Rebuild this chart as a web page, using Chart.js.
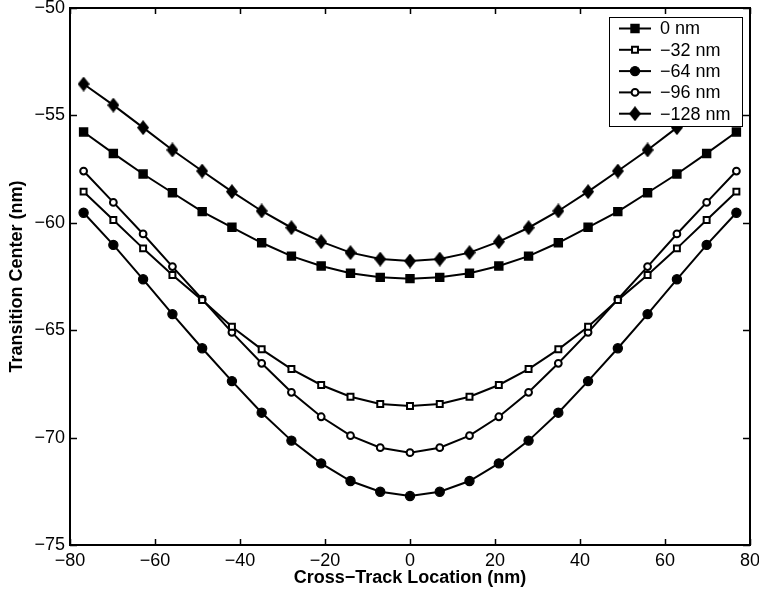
<!DOCTYPE html>
<html>
<head>
<meta charset="utf-8">
<script src="https://cdn.jsdelivr.net/npm/chart.js@4.4.1/dist/chart.umd.min.js"></script>
<style>
  html, body { margin: 0; padding: 0; background: #fff; }
  #wrap { width: 759px; height: 595px; }
</style>
</head>
<body>
<div id="wrap"><canvas id="chart"></canvas></div>
<script>
// cross-track positions (nm)
const crossTrack = [-76.8, -69.8, -62.8, -55.9, -48.9, -41.9, -34.9, -27.9, -20.9, -14.0, -7.0, 0,
                    7.0, 14.0, 20.9, 27.9, 34.9, 41.9, 48.9, 55.9, 62.8, 69.8, 76.8];

// transition center (nm) for each offset
const offset0 = [-55.77, -56.77, -57.73, -58.60, -59.48, -60.21, -60.93, -61.55, -62.01, -62.35, -62.54, -62.60,
                 -62.54, -62.35, -62.01, -61.55, -60.93, -60.21, -59.48, -58.60, -57.73, -56.77, -55.77];
const offset32 = [-58.55, -59.87, -61.19, -62.43, -63.60, -64.84, -65.89, -66.81, -67.55, -68.10, -68.44, -68.53,
                  -68.44, -68.10, -67.55, -66.81, -65.89, -64.84, -63.60, -62.43, -61.19, -59.87, -58.55];
const offset64 = [-59.53, -61.03, -62.63, -64.25, -65.84, -67.37, -68.84, -70.14, -71.20, -72.02, -72.52, -72.72,
                  -72.52, -72.02, -71.20, -70.14, -68.84, -67.37, -65.84, -64.25, -62.63, -61.03, -59.53];
const offset96 = [-57.59, -59.05, -60.52, -62.04, -63.56, -65.10, -66.54, -67.89, -69.03, -69.91, -70.47, -70.70,
                  -70.47, -69.91, -69.03, -67.89, -66.54, -65.10, -63.56, -62.04, -60.52, -59.05, -57.59];
const offset128 = [-53.54, -54.52, -55.57, -56.61, -57.59, -58.55, -59.45, -60.23, -60.88, -61.39, -61.69, -61.78,
                   -61.69, -61.39, -60.88, -60.23, -59.45, -58.55, -57.59, -56.61, -55.57, -54.52, -53.54];

const seriesLabels = ['0 nm', '\u221232 nm', '\u221264 nm', '\u221296 nm', '\u2212128 nm'];
const xTickValues = [-80, -60, -40, -20, 0, 20, 40, 60, 80];
const yTickValues = [-75, -70, -65, -60, -55, -50];

const FONT = '"Liberation Sans", Arial, Helvetica, sans-serif';

// tall diamond like the matlab marker
function diamond(w, h) {
  const c = document.createElement('canvas');
  c.width = w; c.height = h;
  const g = c.getContext('2d');
  g.fillStyle = '#000';
  g.beginPath();
  g.moveTo(w / 2, 0); g.lineTo(w, h / 2); g.lineTo(w / 2, h); g.lineTo(0, h / 2);
  g.closePath(); g.fill();
  return c;
}

const markers = [
  { pointStyle: 'rect', radius: 5.6, borderWidth: 1.5, fill: '#000' },
  { pointStyle: 'rect', radius: 4.2, borderWidth: 2, fill: '#fff' },
  { pointStyle: 'circle', radius: 4.6, borderWidth: 1.2, fill: '#000' },
  { pointStyle: 'circle', radius: 3.4, borderWidth: 2, fill: '#fff' },
  { pointStyle: diamond(12, 15), radius: 6, borderWidth: 0, fill: '#000' },
];

const series = [offset0, offset32, offset64, offset96, offset128];

const datasets = series.map((vals, i) => ({
  label: seriesLabels[i],
  data: crossTrack.map((x, j) => ({ x, y: vals[j] })),
  showLine: true,
  borderColor: '#000',
  borderWidth: 2,
  pointStyle: markers[i].pointStyle,
  pointRadius: markers[i].radius,
  pointBorderWidth: markers[i].borderWidth,
  pointBackgroundColor: markers[i].fill,
  pointBorderColor: '#000',
  clip: false,
}));

const minus = v => String(v).replace('-', '\u2212');

// box, inward ticks on all sides, and the legend drawn on top of the lines
const matlabFrame = {
  id: 'matlabFrame',
  afterDatasetsDraw(chart) {
    const { ctx, chartArea: a, scales: { x, y } } = chart;
    ctx.save();
    ctx.strokeStyle = '#000';
    ctx.lineWidth = 1.5;
    ctx.beginPath();
    xTickValues.forEach(v => {
      const px = Math.round(x.getPixelForValue(v)) + 0.5;
      ctx.moveTo(px, a.bottom); ctx.lineTo(px, a.bottom - 6);
      ctx.moveTo(px, a.top); ctx.lineTo(px, a.top + 6);
    });
    yTickValues.forEach(v => {
      const py = Math.round(y.getPixelForValue(v)) + 0.5;
      ctx.moveTo(a.left, py); ctx.lineTo(a.left + 7, py);
      ctx.moveTo(a.right, py); ctx.lineTo(a.right - 7, py);
    });
    ctx.stroke();
    ctx.lineWidth = 2;
    ctx.strokeRect(a.left, a.top, a.right - a.left, a.bottom - a.top);

    // legend
    const lw = 133, lh = 109;
    const lx = a.right - 8 - lw, ly = a.top + 9;
    ctx.fillStyle = '#fff';
    ctx.fillRect(lx, ly, lw, lh);
    ctx.lineWidth = 1;
    ctx.strokeRect(lx + 0.5, ly + 0.5, lw, lh);
    ctx.font = '18px ' + FONT;
    ctx.textBaseline = 'middle';
    ctx.textAlign = 'left';
    chart.data.datasets.forEach((ds, i) => {
      const ry = ly + 11.5 + i * 21.3;
      ctx.strokeStyle = '#000';
      ctx.lineWidth = 2;
      ctx.beginPath();
      ctx.moveTo(lx + 10, ry); ctx.lineTo(lx + 42, ry);
      ctx.stroke();
      ctx.fillStyle = markers[i].fill;
      ctx.lineWidth = markers[i].borderWidth;
      Chart.helpers.drawPoint(ctx, {
        pointStyle: markers[i].pointStyle,
        radius: markers[i].radius,
        borderWidth: markers[i].borderWidth,
        rotation: 0,
      }, lx + 26, ry);
      ctx.fillStyle = '#000';
      ctx.fillText(ds.label, lx + 51, ry + 1);
    });
    ctx.restore();
  }
};

new Chart(document.getElementById('chart'), {
  type: 'scatter',
  data: { datasets },
  options: {
    responsive: true,
    maintainAspectRatio: false,
    animation: false,
    layout: { padding: { top: 8, right: 9, left: 0, bottom: 0 } },
    plugins: {
      legend: { display: false },
      tooltip: { enabled: false },
    },
    scales: {
      x: {
        type: 'linear',
        min: -80,
        max: 80,
        afterBuildTicks: s => { s.ticks = xTickValues.map(v => ({ value: v })); },
        afterFit: s => { s.height = 50; s.paddingLeft = 0; s.paddingRight = 0; },
        grid: { display: false, drawTicks: false },
        border: { display: false },
        ticks: {
          color: '#000',
          padding: 5,
          maxRotation: 0,
          font: { family: FONT, size: 18 },
          callback: minus,
        },
        title: {
          display: true,
          text: 'Cross\u2212Track Location (nm)',
          color: '#000',
          padding: { top: 0, bottom: 6 },
          font: { family: FONT, size: 18, weight: 'bold' },
        },
      },
      y: {
        type: 'linear',
        min: -75,
        max: -50,
        afterBuildTicks: s => { s.ticks = yTickValues.map(v => ({ value: v })); },
        afterFit: s => { s.width = 70; s.paddingTop = 0; s.paddingBottom = 0; },
        grid: { display: false, drawTicks: false },
        border: { display: false },
        ticks: {
          color: '#000',
          padding: 5,
          font: { family: FONT, size: 18 },
          callback: minus,
        },
        title: {
          display: true,
          text: 'Transition Center (nm)',
          color: '#000',
          padding: { top: 6, bottom: 0 },
          font: { family: FONT, size: 18, weight: 'bold' },
        },
      },
    },
  },
  plugins: [matlabFrame],
});
</script>
</body>
</html>
